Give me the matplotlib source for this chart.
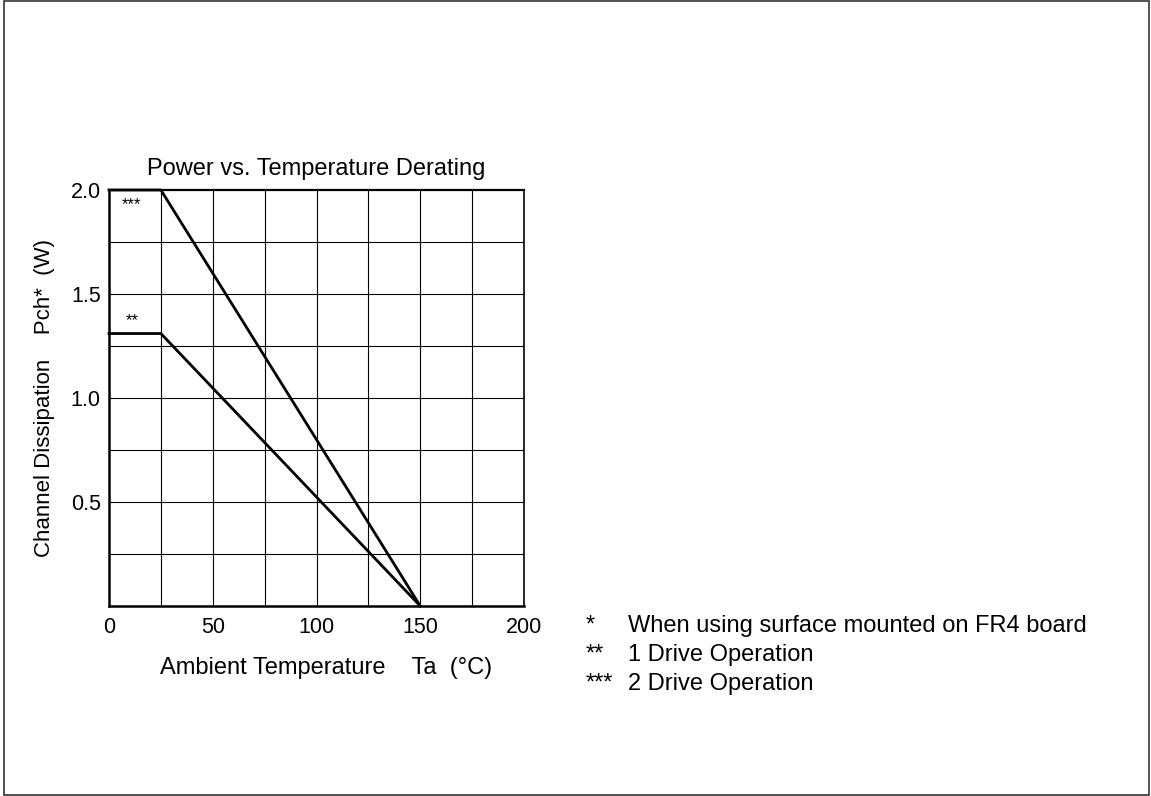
import matplotlib.pyplot as plt
from matplotlib.patches import Rectangle

plt.rcParams['font.family'] = ['Liberation Sans', 'DejaVu Sans']

# derating curves (Ta in degC, Pch in W)
ta = [0, 25, 150]
p_2drive = [2.0, 2.0, 0.0]
p_1drive = [1.31, 1.31, 0.0]

xticks = [0, 50, 100, 150, 200]
yticks = [0.5, 1.0, 1.5, 2.0]

notes_mark = ['*', '**', '***']
notes_text = ['When using surface mounted on FR4 board',
              '1 Drive Operation',
              '2 Drive Operation']

fs = 17      # title, x label, notes
fs_tick = 15.5

fig = plt.figure(figsize=(11.51, 7.96), dpi=100)
ax = fig.add_axes([109/1151, 1-606/796, 415/1151, 416/796])

# grid every 25 degC / 0.25 W
for gx in range(25, 200, 25):
    ax.axvline(gx, color='black', lw=0.8, zorder=1)
for gy in [0.25, 0.5, 0.75, 1.0, 1.25, 1.5, 1.75]:
    ax.axhline(gy, color='black', lw=0.8, zorder=1)

ax.plot(ta, p_2drive, color='black', lw=2, zorder=3, clip_on=False)
ax.plot(ta, p_1drive, color='black', lw=2, zorder=3, clip_on=False)

ax.text(11, 1.93, '***', ha='center', va='center', fontsize=12)
ax.text(11, 1.37, '**', ha='center', va='center', fontsize=12)

ax.set_xlim(0, 200)
ax.set_ylim(0, 2.0)
ax.set_xticks(xticks)
ax.set_xticklabels([str(v) for v in xticks])
ax.set_yticks(yticks)
ax.set_yticklabels(['%.1f' % v for v in yticks])
ax.tick_params(length=0, labelsize=fs_tick)
ax.tick_params(axis='x', pad=8)
ax.tick_params(axis='y', pad=6)
for s in ax.spines.values():
    s.set_linewidth(1.2)
ax.spines['left'].set_linewidth(1.8)
ax.spines['bottom'].set_linewidth(1.8)
ax.spines['top'].set_linewidth(1.6)

ax.set_title('Power vs. Temperature Derating', fontsize=fs, pad=11)
ax.set_xlabel('Ambient Temperature    Ta  (\u00b0C)', fontsize=fs, va='center')
ax.xaxis.set_label_coords((326-109)/415, (606-668)/416)
ax.set_ylabel('Channel Dissipation    Pch*  (W)', fontsize=16, va='center')
ax.yaxis.set_label_coords((45-109)/415, 0.5)

for i in range(len(notes_mark)):
    y = 1 - (626 + 29*i)/796
    fig.text(586/1151, y, notes_mark[i], fontsize=fs, va='center', ha='left')
    fig.text(628/1151, y, notes_text[i], fontsize=fs, va='center', ha='left')

# outer frame
fig.patches.append(Rectangle((4/1151, 1/796), 1145/1151, 794/796,
                             transform=fig.transFigure, fill=False,
                             edgecolor='#333333', lw=1.2))

fig.savefig('out.png', dpi=100)
